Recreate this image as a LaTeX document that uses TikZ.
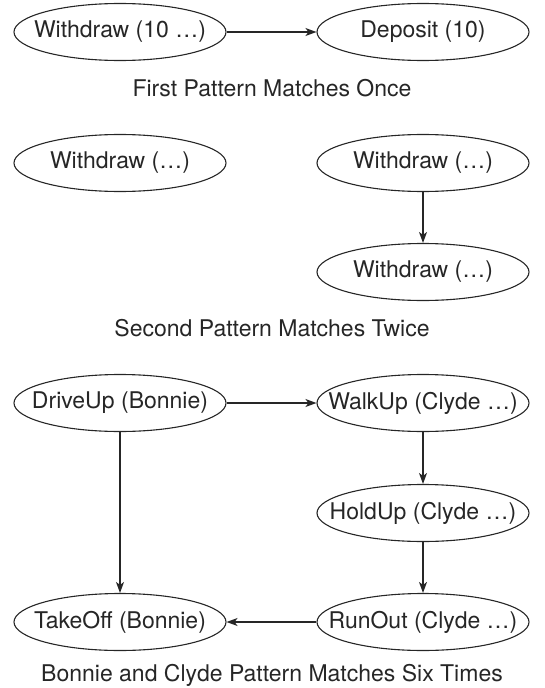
\documentclass[tikz,border=0pt]{standalone}
\usepackage{fontspec}
\setmainfont{TeX Gyre Heros}
\usetikzlibrary{shapes.geometric,arrows.meta}
\newcommand{\zw}[1]{\makebox[0pt]{#1}}
\begin{document}
\begin{tikzpicture}[x=1pt,y=-1pt,
  ev/.style={ellipse,draw=black!85,line width=1.1pt,minimum width=212pt,minimum height=57pt,inner sep=0pt,font=\fontsize{23}{27}\selectfont,text=black!85},
  captext/.style={font=\fontsize{23}{27}\selectfont,text=black!85},
  conn/.style={draw=black!85,line width=1.3pt,-{Stealth[length=11pt,width=8pt,inset=3pt]}}]
\useasboundingbox (0,0) rectangle (544,688);
\node[ev] (w1) at (120,32) {\zw{Withdraw (10 \dots)}};
\node[ev] (d1) at (423,32) {\zw{Deposit (10)}};
\node[captext] (c1) at (272,88) {First Pattern Matches Once};
\node[ev] (w2) at (120,163) {\zw{Withdraw (\dots)}};
\node[ev] (w3) at (423,163) {\zw{Withdraw (\dots)}};
\node[ev] (w4) at (423,272) {\zw{Withdraw (\dots)}};
\node[captext] (c2) at (272,328) {Second Pattern Matches Twice};
\node[ev] (du) at (120,403) {\zw{DriveUp (Bonnie)}};
\node[ev] (wu) at (423,403) {\zw{WalkUp (Clyde \dots)}};
\node[ev] (hu) at (423,513) {\zw{HoldUp (Clyde \dots)}};
\node[ev] (ro) at (423,622) {\zw{RunOut (Clyde \dots)}};
\node[ev] (to) at (120,622) {\zw{TakeOff (Bonnie)}};
\node[captext] (c3) at (272,675) {Bonnie and Clyde Pattern Matches Six Times};
\draw[conn] (w1) -- (d1);
\draw[conn] (w3) -- (w4);
\draw[conn] (du) -- (wu);
\draw[conn] (wu) -- (hu);
\draw[conn] (hu) -- (ro);
\draw[conn] (ro) -- (to);
\draw[conn] (du) -- (to);
\end{tikzpicture}
\end{document}
